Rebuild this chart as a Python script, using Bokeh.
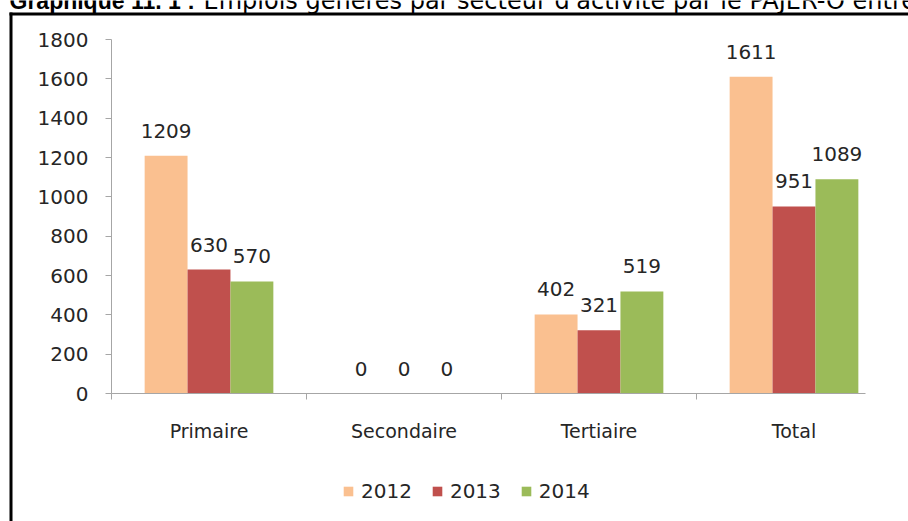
import numpy as np
from bokeh.plotting import figure
from bokeh.models import (ColumnDataSource, Range1d, FixedTicker, Legend,
                          LegendItem, Label, BoxAnnotation)
from bokeh.embed import file_html
from bokeh.resources import INLINE
from bokeh.core.properties import value

# ---- data -------------------------------------------------------------
title_bold = "Graphique 11. 1 :"
title_rest = "Emplois générés par secteur d'activité par le PAJER-O entre 2012 et 2014"
categories = ["Primaire", "Secondaire", "Tertiaire", "Total"]
years = ["2012", "2013", "2014"]
v2012 = [1209, 0, 402, 1611]
v2013 = [630, 0, 321, 951]
v2014 = [570, 0, 519, 1089]
y_ticks = [0, 200, 400, 600, 800, 1000, 1200, 1400, 1600, 1800]

# ---- layout / style -------------------------------------------------------
W, H = 908, 521
PX_LEFT = 111      # pixel x of the value axis
PX_ZERO = 393      # pixel y of value 0
PX_TOP = 39        # pixel y of value 1800
CAT_W = 195        # pixels per category
PX_AXIS_END = 865  # pixel x where the category axis ends
Y_MAX = 1800

colors = ["#FAC090", "#C0504D", "#9BBB59"]
FONT = "DejaVu Sans"
TXT = "#262626"
AX = "#A6A6A6"
BAR_W = 0.22

ppu = (PX_ZERO - PX_TOP) / Y_MAX
y_start = -(H - PX_ZERO) / ppu
y_end = Y_MAX + PX_TOP / ppu
x_start = -PX_LEFT / CAT_W
x_end = (W - PX_LEFT) / CAT_W
x_axis_end = (PX_AXIS_END - PX_LEFT) / CAT_W

p = figure(width=W, height=H, output_backend="svg", toolbar_location=None,
           title=None, x_range=Range1d(x_start, x_end),
           y_range=Range1d(y_start, y_end))
p.min_border = 0
p.min_border_left = 0
p.min_border_right = 0
p.min_border_top = 0
p.min_border_bottom = 0
p.xgrid.visible = False
p.ygrid.visible = False
p.outline_line_color = None
p.background_fill_color = "white"
p.border_fill_color = "white"

x_base = np.arange(len(categories)) + 0.5
renderers = []
for i, (yr, vals, col) in enumerate(zip(years, [v2012, v2013, v2014], colors)):
    src = ColumnDataSource(dict(x=x_base + (i - 1) * BAR_W, top=vals,
                                label=[str(v) for v in vals]))
    r = p.vbar(x="x", top="top", bottom=0, width=BAR_W, fill_color=col,
               line_color=None, source=src)
    renderers.append(r)
    p.text(x="x", y="top", text="label", source=src, text_align="center",
           text_baseline="alphabetic", y_offset=-25, text_font=value(FONT),
           text_font_size="20px", text_color=TXT)

# x axis: labels at category centres, ticks at category boundaries
xa = p.xaxis[0]
xa.fixed_location = 0
xa.bounds = (0, x_axis_end)
xa.ticker = FixedTicker(ticks=list(x_base), minor_ticks=list(range(len(categories))))
xa.major_label_overrides = {float(x): c for x, c in zip(x_base, categories)}
xa.major_tick_line_color = None
xa.major_tick_out = 6
xa.minor_tick_out = 6
xa.minor_tick_in = 0
xa.minor_tick_line_color = AX
xa.axis_line_color = AX
xa.major_label_standoff = 20
xa.major_label_text_font = FONT
xa.major_label_text_font_size = "19px"
xa.major_label_text_color = TXT

ya = p.yaxis[0]
ya.fixed_location = 0
ya.bounds = (0, Y_MAX)
ya.ticker = FixedTicker(ticks=y_ticks, minor_ticks=[])
ya.axis_line_color = AX
ya.major_tick_line_color = AX
ya.major_tick_out = 6
ya.major_tick_in = 0
ya.major_label_standoff = 17
ya.major_label_text_font = FONT
ya.major_label_text_font_size = "20px"
ya.major_label_text_color = TXT

# frame of the figure box (black, left and top)
p.add_layout(BoxAnnotation(left=9, right=12, bottom=0, top=H - 12,
                           left_units="screen", right_units="screen",
                           top_units="screen", bottom_units="screen",
                           fill_color="black", fill_alpha=1, line_color=None))
p.add_layout(BoxAnnotation(left=9, right=W, bottom=H - 15, top=H - 12,
                           left_units="screen", right_units="screen",
                           top_units="screen", bottom_units="screen",
                           fill_color="black", fill_alpha=1, line_color=None))

# caption above the box (partly cut by the page top, as in the source)
p.add_layout(Label(x=9, y=H, x_units="screen", y_units="screen",
                   text=title_bold, text_font="Liberation Sans",
                   text_font_style="bold", text_font_size="23px",
                   text_color="black", text_baseline="alphabetic"))
p.add_layout(Label(x=203, y=H, x_units="screen", y_units="screen",
                   text=title_rest, text_font="DejaVu Sans",
                   text_font_size="24px", text_color="black",
                   text_baseline="alphabetic"))

legend = Legend(items=[LegendItem(label=yr, renderers=[r]) for yr, r in zip(years, renderers)],
                orientation="horizontal", location=(342, 18), padding=0, margin=0,
                spacing=19, label_standoff=7, glyph_width=12, glyph_height=12,
                border_line_color=None, background_fill_alpha=0,
                label_text_font=FONT, label_text_font_size="20px",
                label_text_color=TXT)
p.add_layout(legend)

open("out.html", "w").write(file_html(p, INLINE))
